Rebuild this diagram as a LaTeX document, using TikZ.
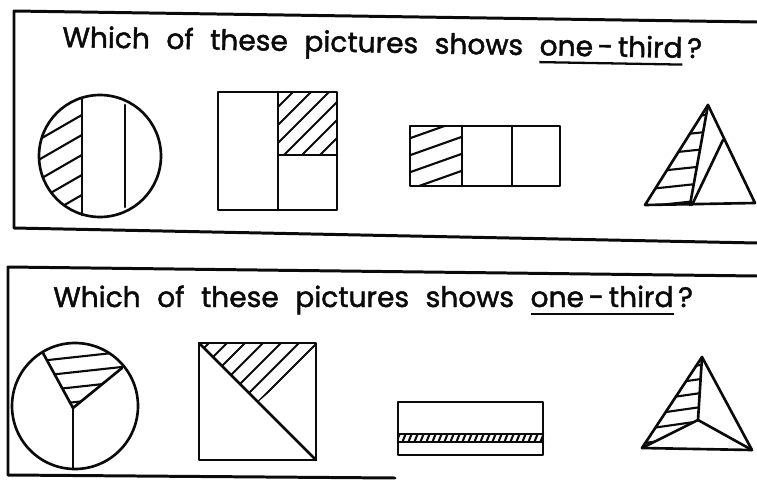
\documentclass[tikz,border=0pt]{standalone}
\usepackage{fontspec}
\setmainfont[WordSpace=2.2, FakeBold=1.6]{Poppins}
\usepackage{tikz}
\definecolor{inkblack}{RGB}{10, 10, 10}

% thick hand-drawn underline
\newcommand{\handuline}[1]{\setbox0\hbox{#1}\rlap{\rule[-4.5pt]{\wd0}{1.3pt}}\box0}

\tikzset{
  frameline/.style={inkblack, line width=1.7pt, line cap=round, line join=round},
  figline/.style={inkblack, line width=1.5pt, line cap=round, line join=round},
  hatchline/.style={inkblack, line width=1.2pt, line cap=round},
  question/.style={inkblack, font=\fontsize{16}{18}\selectfont, anchor=base west, inner sep=0pt}
}

\begin{document}
\begin{tikzpicture}[x=0.2mm, y=-0.2mm]
    \useasboundingbox (0,0) rectangle (757,481);

    %% upper panel: open frame
    \draw[frameline] (757,22) -- (14,11) -- (14,228) -- (757,243);
    \node[question, rotate=-1] (qtop) at (62,47)
      {Which of these pictures shows \handuline{one\,-\,third}\,?};

    %% circle cut by two chords
    \coordinate (ca) at (100,156);
    \draw[figline] (ca) circle (61);
    \draw[figline] (82,98) -- (82,215);
    \draw[figline] (125,105) -- (125,207);
    \begin{scope}
      \clip (ca) circle (61);
      \clip (30,90) rectangle (82,220);
      \foreach \y in {122,142,...,242}
        \draw[hatchline] (35,\y) -- ++(52,-30);
    \end{scope}

    %% square with one quarter marked
    \draw[figline] (218,92) rectangle (337,210);
    \draw[figline] (278,92) -- (278,210);
    \draw[figline] (278,155) -- (337,155);
    \begin{scope}
      \clip (278,92) rectangle (337,155);
      \foreach \x in {225,243,...,333}
        \draw[hatchline] (\x,160) -- ++(72,-72);
    \end{scope}

    %% strip of three cells
    \draw[figline] (410,126) rectangle (560,186);
    \draw[figline] (462,126) -- (462,186);
    \draw[figline] (512,126) -- (512,186);
    \begin{scope}
      \clip (410,126) rectangle (462,186);
      \foreach \y in {140,157,...,210}
        \draw[hatchline] (405,\y) -- ++(62,-22);
    \end{scope}

    %% triangle with a thin slice
    \coordinate (ta) at (708,105);
    \coordinate (tl) at (645,205);
    \coordinate (tr) at (755,203);
    \coordinate (tm) at (690,205);
    \coordinate (tk) at (723,140);
    \draw[figline] (ta) -- (tl) -- (tr) -- cycle;
    \draw[figline] (ta) -- (tm);
    \draw[figline] (tk) -- (692,205);
    \begin{scope}
      \clip (ta) -- (tl) -- (tm) -- cycle;
      \foreach \y in {122,139,...,207}
        \draw[hatchline] (640,\y) -- ++(75,-8);
    \end{scope}

    %% lower panel: open frame
    \draw[frameline] (757,276) -- (8,267) -- (8,475) -- (395,478);
    \node[question] (qbot) at (53,307)
      {Which of these pictures shows \handuline{one\,-\,third}\,?};

    %% circle with three unequal sectors
    \coordinate (cb) at (75,406);
    \coordinate (co) at (73,408);
    \draw[figline] (cb) circle (63);
    \draw[figline] (43,353) -- (co) -- (122,368);
    \draw[figline] (co) -- (73,469);
    \begin{scope}
      \clip (cb) circle (63);
      \clip (co) -- (28,325) -- (146,300) -- (146,348) -- cycle;
      \foreach \y in {362,377,...,437}
        \draw[hatchline] (30,\y) -- ++(110,-12);
    \end{scope}

    %% square cut by a diagonal
    \draw[figline] (199,343) rectangle (316,460);
    \draw[figline] (199,343) -- (316,460);
    \begin{scope}
      \clip (199,343) -- (316,343) -- (316,352) -- (258,402) -- cycle;
      \foreach \x in {209,227,...,320}
        \draw[hatchline] (\x+10,333) -- ++(-80,80);
    \end{scope}

    %% flat box with a thin band
    \draw[figline] (398,402) rectangle (543,455);
    \draw[figline] (398,434) -- (543,434);
    \draw[figline] (398,442) -- (543,442);
    \begin{scope}
      \clip (398,434) rectangle (543,442);
      \foreach \x in {396,402,...,546}
        \draw[hatchline] (\x,443) -- ++(4,-10);
    \end{scope}

    %% triangle split from an inner point
    \coordinate (pa) at (702,357);
    \coordinate (pl) at (642,448);
    \coordinate (pr) at (752,450);
    \coordinate (pi) at (698,420);
    \draw[figline] (pa) -- (pl) -- (pr) -- cycle;
    \draw[figline] (pa) -- (pi) -- (pl);
    \draw[figline] (pi) -- (pr);
    \begin{scope}
      \clip (pa) -- (pi) -- (pl) -- cycle;
      \foreach \y in {374,388,...,458}
        \draw[hatchline] (638,\y) -- ++(70,-10);
    \end{scope}
  \end{tikzpicture}
\end{document}
